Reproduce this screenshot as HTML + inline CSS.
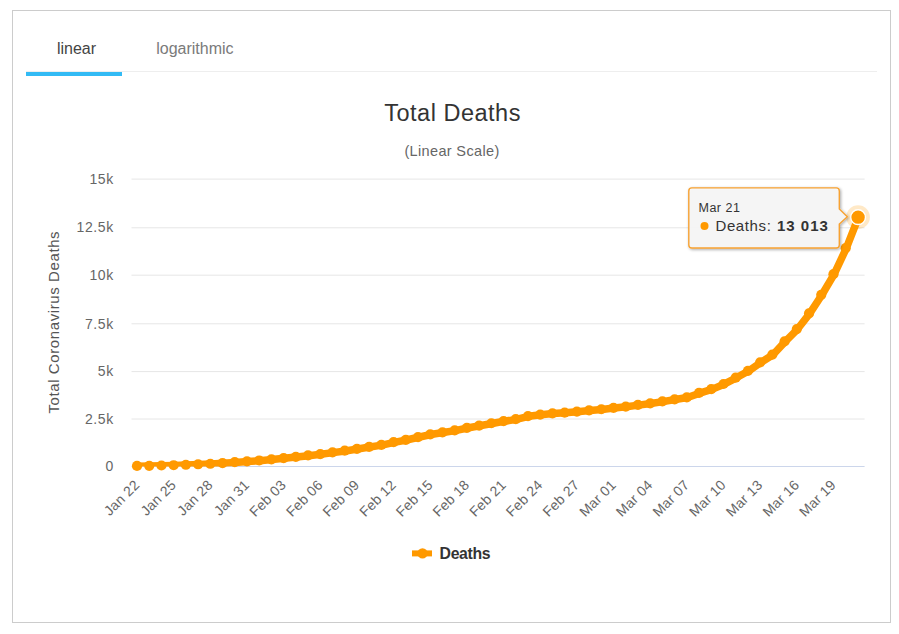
<!DOCTYPE html>
<html><head><meta charset="utf-8"><title>Total Deaths</title>
<style>
html,body{margin:0;padding:0;background:#fff;}
body{width:899px;height:634px;overflow:hidden;position:relative;font-family:"Liberation Sans",sans-serif;}
.panel{position:absolute;left:12px;top:10px;width:877px;height:611px;border:1px solid #ccc;box-sizing:content-box;background:#fff;}
.tabs{position:absolute;left:26px;top:25px;width:851px;height:46px;border-bottom:1px solid #eee;}
.tab{position:absolute;top:0;height:46px;line-height:46px;font-size:16px;text-align:center;}
.tab.active{left:0;width:96px;height:47px;color:#444;border-bottom:4px solid #33bbf5;}
.tab span{position:relative;top:0.5px;left:2.5px;}
.tab.other{left:127.7px;width:80px;color:#7a7a7a;text-align:left;}
svg{position:absolute;left:0;top:0;}
svg text{font-family:"Liberation Sans",sans-serif;}
</style></head><body>
<div class="panel"></div>
<div class="tabs"><div class="tab active"><span>linear</span></div><div class="tab other"><span>logarithmic</span></div></div>
<svg width="899" height="634" viewBox="0 0 899 634">
<defs><clipPath id="pc"><rect x="131.5" y="179.1" width="733.1" height="287.4"/></clipPath><filter id="sh" x="-10%" y="-20%" width="120%" height="140%"><feGaussianBlur in="SourceAlpha" stdDeviation="1.5"/><feOffset dx="1" dy="1"/><feComponentTransfer><feFuncA type="linear" slope="0.35"/></feComponentTransfer><feMerge><feMergeNode/><feMergeNode in="SourceGraphic"/></feMerge></filter></defs>
<g>
<path d="M 131.5 419.0 L 864.6 419.0" stroke="#e6e6e6" stroke-width="1" fill="none"/>
<path d="M 131.5 371.6 L 864.6 371.6" stroke="#e6e6e6" stroke-width="1" fill="none"/>
<path d="M 131.5 323.8 L 864.6 323.8" stroke="#e6e6e6" stroke-width="1" fill="none"/>
<path d="M 131.5 275.2 L 864.6 275.2" stroke="#e6e6e6" stroke-width="1" fill="none"/>
<path d="M 131.5 227.8 L 864.6 227.8" stroke="#e6e6e6" stroke-width="1" fill="none"/>
<path d="M 131.5 179.1 L 864.6 179.1" stroke="#e6e6e6" stroke-width="1" fill="none"/>
</g>
<path d="M 131.5 466.5 L 864.6 466.5" stroke="#ccd6eb" stroke-width="1" fill="none"/>
<text x="452.6" y="120.9" text-anchor="middle" font-size="23.5" fill="#333" letter-spacing="0.5">Total Deaths</text>
<text x="452" y="155.5" text-anchor="middle" font-size="14.5" fill="#666" letter-spacing="0.35">(Linear Scale)</text>
<text x="59" y="322.2" text-anchor="middle" font-size="15" fill="#555" letter-spacing="0.6" transform="rotate(-90 59 322.2)">Total Coronavirus Deaths</text>
<g font-size="14" fill="#666" letter-spacing="0.6">
<text x="113.8" y="470.7" text-anchor="end">0</text>
<text x="113.8" y="423.8" text-anchor="end">2.5k</text>
<text x="113.8" y="375.8" text-anchor="end">5k</text>
<text x="113.8" y="328.7" text-anchor="end">7.5k</text>
<text x="113.8" y="279.8" text-anchor="end">10k</text>
<text x="113.8" y="231.8" text-anchor="end">12.5k</text>
<text x="113.8" y="184.4" text-anchor="end">15k</text>
</g>
<g font-size="14" fill="#666" letter-spacing="0.2">
<text x="140.31" y="485.9" text-anchor="end" transform="rotate(-45 140.31 485.9)">Jan 22</text>
<text x="176.96" y="485.9" text-anchor="end" transform="rotate(-45 176.96 485.9)">Jan 25</text>
<text x="213.62" y="485.9" text-anchor="end" transform="rotate(-45 213.62 485.9)">Jan 28</text>
<text x="250.27" y="485.9" text-anchor="end" transform="rotate(-45 250.27 485.9)">Jan 31</text>
<text x="286.93" y="485.9" text-anchor="end" transform="rotate(-45 286.93 485.9)">Feb 03</text>
<text x="323.58" y="485.9" text-anchor="end" transform="rotate(-45 323.58 485.9)">Feb 06</text>
<text x="360.24" y="485.9" text-anchor="end" transform="rotate(-45 360.24 485.9)">Feb 09</text>
<text x="396.89" y="485.9" text-anchor="end" transform="rotate(-45 396.89 485.9)">Feb 12</text>
<text x="433.55" y="485.9" text-anchor="end" transform="rotate(-45 433.55 485.9)">Feb 15</text>
<text x="470.20" y="485.9" text-anchor="end" transform="rotate(-45 470.20 485.9)">Feb 18</text>
<text x="506.86" y="485.9" text-anchor="end" transform="rotate(-45 506.86 485.9)">Feb 21</text>
<text x="543.51" y="485.9" text-anchor="end" transform="rotate(-45 543.51 485.9)">Feb 24</text>
<text x="580.17" y="485.9" text-anchor="end" transform="rotate(-45 580.17 485.9)">Feb 27</text>
<text x="616.82" y="485.9" text-anchor="end" transform="rotate(-45 616.82 485.9)">Mar 01</text>
<text x="653.48" y="485.9" text-anchor="end" transform="rotate(-45 653.48 485.9)">Mar 04</text>
<text x="690.13" y="485.9" text-anchor="end" transform="rotate(-45 690.13 485.9)">Mar 07</text>
<text x="726.79" y="485.9" text-anchor="end" transform="rotate(-45 726.79 485.9)">Mar 10</text>
<text x="763.44" y="485.9" text-anchor="end" transform="rotate(-45 763.44 485.9)">Mar 13</text>
<text x="800.10" y="485.9" text-anchor="end" transform="rotate(-45 800.10 485.9)">Mar 16</text>
<text x="836.75" y="485.9" text-anchor="end" transform="rotate(-45 836.75 485.9)">Mar 19</text>
</g>
<path d="M 137.61 466.17 L 149.83 466.02 L 162.05 465.71 L 174.26 465.43 L 186.48 464.97 L 198.70 464.47 L 210.92 463.97 L 223.14 463.24 L 235.36 462.42 L 247.57 461.54 L 259.79 460.68 L 272.01 459.56 L 284.23 458.34 L 296.45 457.07 L 308.67 455.67 L 320.88 454.28 L 333.10 452.63 L 345.32 450.92 L 357.54 449.06 L 369.76 447.00 L 381.98 445.14 L 394.19 442.34 L 406.41 440.00 L 418.63 437.26 L 430.85 434.52 L 443.07 432.49 L 455.29 430.61 L 467.50 428.01 L 479.72 425.77 L 491.94 423.45 L 504.16 421.28 L 516.38 419.37 L 528.60 416.34 L 540.81 414.79 L 553.03 413.56 L 565.25 412.85 L 577.47 411.74 L 589.69 410.50 L 601.91 409.46 L 614.12 408.06 L 626.34 406.78 L 638.56 405.15 L 650.78 403.56 L 663.00 401.61 L 675.22 399.55 L 687.43 397.54 L 699.65 393.17 L 711.87 389.38 L 724.09 384.19 L 736.31 377.83 L 748.53 371.06 L 760.74 362.50 L 772.96 354.74 L 785.18 341.58 L 797.40 329.28 L 809.62 313.62 L 821.84 295.00 L 834.05 274.33 L 846.27 248.34 L 858.49 217.17" stroke="#ff9900" stroke-width="7.5" fill="none" stroke-linejoin="round" stroke-linecap="round" clip-path="url(#pc)"/>
<g fill="#ff9900"><circle cx="137.01" cy="465.97" r="5.1"/><circle cx="149.23" cy="465.82" r="5.1"/><circle cx="161.45" cy="465.51" r="5.1"/><circle cx="173.66" cy="465.23" r="5.1"/><circle cx="185.88" cy="464.77" r="5.1"/><circle cx="198.10" cy="464.27" r="5.1"/><circle cx="210.32" cy="463.77" r="5.1"/><circle cx="222.54" cy="463.04" r="5.1"/><circle cx="234.76" cy="462.22" r="5.1"/><circle cx="246.97" cy="461.34" r="5.1"/><circle cx="259.19" cy="460.48" r="5.1"/><circle cx="271.41" cy="459.36" r="5.1"/><circle cx="283.63" cy="458.14" r="5.1"/><circle cx="295.85" cy="456.87" r="5.1"/><circle cx="308.07" cy="455.47" r="5.1"/><circle cx="320.28" cy="454.08" r="5.1"/><circle cx="332.50" cy="452.43" r="5.1"/><circle cx="344.72" cy="450.72" r="5.1"/><circle cx="356.94" cy="448.86" r="5.1"/><circle cx="369.16" cy="446.80" r="5.1"/><circle cx="381.38" cy="444.94" r="5.1"/><circle cx="393.59" cy="442.14" r="5.1"/><circle cx="405.81" cy="439.80" r="5.1"/><circle cx="418.03" cy="437.06" r="5.1"/><circle cx="430.25" cy="434.32" r="5.1"/><circle cx="442.47" cy="432.29" r="5.1"/><circle cx="454.69" cy="430.41" r="5.1"/><circle cx="466.90" cy="427.81" r="5.1"/><circle cx="479.12" cy="425.57" r="5.1"/><circle cx="491.34" cy="423.25" r="5.1"/><circle cx="503.56" cy="421.08" r="5.1"/><circle cx="515.78" cy="419.17" r="5.1"/><circle cx="528.00" cy="416.14" r="5.1"/><circle cx="540.21" cy="414.59" r="5.1"/><circle cx="552.43" cy="413.36" r="5.1"/><circle cx="564.65" cy="412.65" r="5.1"/><circle cx="576.87" cy="411.54" r="5.1"/><circle cx="589.09" cy="410.30" r="5.1"/><circle cx="601.31" cy="409.26" r="5.1"/><circle cx="613.52" cy="407.86" r="5.1"/><circle cx="625.74" cy="406.58" r="5.1"/><circle cx="637.96" cy="404.95" r="5.1"/><circle cx="650.18" cy="403.36" r="5.1"/><circle cx="662.40" cy="401.41" r="5.1"/><circle cx="674.62" cy="399.35" r="5.1"/><circle cx="686.83" cy="397.34" r="5.1"/><circle cx="699.05" cy="392.97" r="5.1"/><circle cx="711.27" cy="389.18" r="5.1"/><circle cx="723.49" cy="383.99" r="5.1"/><circle cx="735.71" cy="377.63" r="5.1"/><circle cx="747.93" cy="370.86" r="5.1"/><circle cx="760.14" cy="362.30" r="5.1"/><circle cx="772.36" cy="354.54" r="5.1"/><circle cx="784.58" cy="341.38" r="5.1"/><circle cx="796.80" cy="329.08" r="5.1"/><circle cx="809.02" cy="313.42" r="5.1"/><circle cx="821.24" cy="294.80" r="5.1"/><circle cx="833.45" cy="274.13" r="5.1"/><circle cx="845.67" cy="248.14" r="5.1"/></g>
<circle cx="858.09" cy="217.17" r="11.8" fill="#ff9900" fill-opacity="0.22"/>
<circle cx="858.09" cy="217.17" r="7.4" fill="#ff9900" stroke="#fff" stroke-width="1.4"/>
<g filter="url(#sh)">
<path d="M 691.8 187.9 L 836.3 187.9 Q 839.3 187.9 839.3 190.9 L 839.3 209 L 847.3 216.8 L 839.3 224 L 839.3 245 Q 839.3 248 836.3 248 L 691.8 248 Q 688.8 248 688.8 245 L 688.8 190.9 Q 688.8 187.9 691.8 187.9 Z" fill="#f7f7f7" fill-opacity="0.95" stroke="#f7a233" stroke-width="1.4"/>
</g>
<text x="698.5" y="212" font-size="12.5" fill="#333" letter-spacing="0.5">Mar 21</text>
<circle cx="704.5" cy="226" r="4" fill="#ff9900"/>
<text x="715.5" y="231" font-size="15" fill="#333" letter-spacing="0.6">Deaths: <tspan font-weight="bold" dx="0.8" letter-spacing="1">13 013</tspan></text>
<path d="M 412 553.4 L 432 553.4" stroke="#ff9900" stroke-width="6"/>
<circle cx="422.5" cy="553.4" r="5.2" fill="#ff9900"/>
<text x="439.6" y="558.7" font-size="15.8" font-weight="bold" fill="#333" letter-spacing="-0.35">Deaths</text>
</svg>
</body></html>
